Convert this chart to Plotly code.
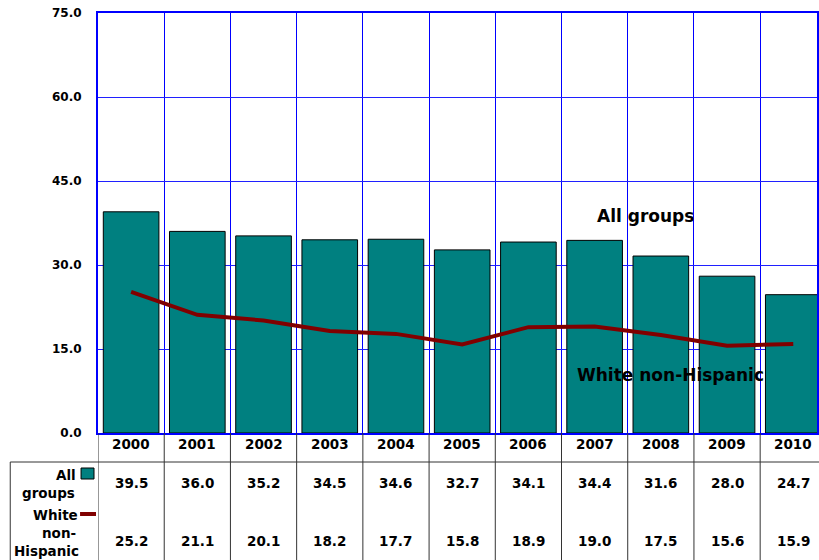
import plotly.graph_objects as go

years = ["2000", "2001", "2002", "2003", "2004", "2005", "2006", "2007", "2008", "2009", "2010"]
all_groups = [39.5, 36.0, 35.2, 34.5, 34.6, 32.7, 34.1, 34.4, 31.6, 28.0, 24.7]
white_nh = [25.2, 21.1, 20.1, 18.2, 17.7, 15.8, 18.9, 19.0, 17.5, 15.6, 15.9]
y_ticks = [0, 15, 30, 45, 60, 75]

W, H = 819, 560
PLOT_L, PLOT_T, PLOT_B = 98, 13, 433
ML, MT, MB, MR = PLOT_L, PLOT_T, H - PLOT_B, 0
PW, PH = W - ML - MR, PLOT_B - PLOT_T
CAT_W = 66.4
x_max = -0.5 + PW / CAT_W

def py(p):  # pixel y -> paper y
    return (PLOT_B - p) / PH

def px(p):  # pixel x -> paper x
    return (p - PLOT_L) / PW

FONT = "DejaVu Sans"
idx = list(range(len(years)))

fig = go.Figure()
fig.add_trace(go.Bar(x=idx, y=all_groups, width=0.84,
                     marker=dict(color="#008080", line=dict(color="black", width=1)),
                     name="All groups", showlegend=False))
fig.add_trace(go.Scatter(x=idx, y=white_nh, mode="lines",
                         line=dict(color="#800000", width=4),
                         name="White non-Hispanic", showlegend=False))

annotations = []
shapes = []
tf = dict(family=FONT, size=13.5, color="black")
for i, yr in enumerate(years):
    annotations.append(dict(x=i, y=py(454), xref="x", yref="paper", text="<b>%s</b>" % yr,
                            showarrow=False, font=tf))
    annotations.append(dict(x=i, y=py(493), xref="x", yref="paper", text="<b>%.1f</b>" % all_groups[i],
                            showarrow=False, font=tf))
    annotations.append(dict(x=i, y=py(551), xref="x", yref="paper", text="<b>%.1f</b>" % white_nh[i],
                            showarrow=False, font=tf))

for txt, yp, xr in [("All", 475, 78), ("groups", 493, 77), ("White", 515, 80),
                    ("non-", 533, 78), ("Hispanic", 551, 81)]:
    annotations.append(dict(x=px(xr), y=py(yp), xref="paper", yref="paper", text="<b>%s</b>" % txt,
                            xanchor="right", yanchor="middle", showarrow=False, font=tf))

# legend keys in table
shapes.append(dict(type="rect", xref="paper", yref="paper", x0=px(81), x1=px(94), y0=py(479), y1=py(468),
                   fillcolor="#008080", line=dict(color="black", width=1)))
shapes.append(dict(type="line", xref="paper", yref="paper", x0=px(80), x1=px(96), y0=py(514), y1=py(514),
                   line=dict(color="#800000", width=4)))

# table lines
line_col = "#333333"
for i in range(len(years) + 1):
    shapes.append(dict(type="line", xref="x", yref="paper", x0=i - 0.5, x1=i - 0.5,
                       y0=0, y1=py(570), line=dict(color=line_col, width=1)))
shapes.append(dict(type="line", xref="paper", yref="paper", x0=px(10), x1=px(830),
                   y0=py(462), y1=py(462), line=dict(color=line_col, width=1)))
shapes.append(dict(type="line", xref="paper", yref="paper", x0=px(10), x1=px(10),
                   y0=py(462), y1=py(570), line=dict(color=line_col, width=1)))

# in-chart labels
annotations.append(dict(x=px(647), y=py(216), xref="paper", yref="paper", text="<b>All groups</b>",
                        xanchor="center", yanchor="middle", showarrow=False,
                        font=dict(family=FONT, size=17, color="black")))
annotations.append(dict(x=px(672), y=py(375), xref="paper", yref="paper",
                        text="<b>White non-Hispanic</b>", xanchor="center", yanchor="middle",
                        showarrow=False, font=dict(family=FONT, size=17, color="black")))

fig.update_layout(
    width=W, height=H,
    margin=dict(l=ML, r=MR, t=MT, b=MB, pad=0),
    plot_bgcolor="white", paper_bgcolor="white",
    annotations=annotations, shapes=shapes,
)
fig.update_xaxes(range=[-0.5, x_max], tickmode="linear", tick0=-0.5, dtick=1,
                 showticklabels=False, showgrid=True, gridcolor="#0000FF", gridwidth=1,
                 showline=True, linecolor="#0000FF", linewidth=2, mirror=True, zeroline=False)
fig.update_yaxes(range=[0, 75], tickvals=y_ticks, ticktext=["<b>%.1f</b>" % v for v in y_ticks],
                 showgrid=True, gridcolor="#2020FF", gridwidth=1,
                 showline=True, linecolor="#0000FF", linewidth=2, mirror=True, zeroline=False,
                 ticklabelstandoff=12, ticklabeloverflow="allow",
                 tickfont=dict(family=FONT, size=12, color="black"))

fig.write_html("out.html", config={"displayModeBar": False},
               post_script="document.body.style.margin='0';document.body.style.overflow='hidden';")
